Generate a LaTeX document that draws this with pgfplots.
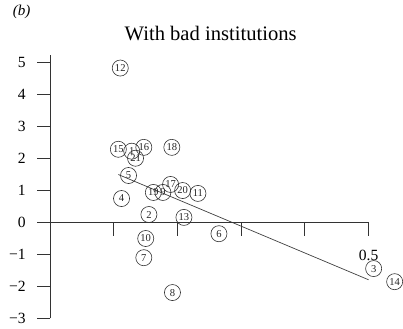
\documentclass[border=0pt]{standalone}
\usepackage{pgfplots}
\pgfplotsset{compat=1.18}
\usepackage{pgfplotstable}
\usepackage{fontspec}
\setmainfont{Liberation Serif}
\pgfplotstableread{
x y lab
0.128 2.23 1
0.155 0.25 2
0.508 -1.44 3
0.112 0.75 4
0.123 1.47 5
0.265 -0.35 6
0.147 -1.10 7
0.192 -2.19 8
0.177 0.94 9
0.150 -0.50 10
0.232 0.91 11
0.110 4.83 12
0.210 0.16 13
0.541 -1.85 14
0.107 2.29 15
0.147 2.35 16
0.189 1.19 17
0.191 2.35 18
0.162 0.94 19
0.208 1.00 20
0.134 2.01 21
}\pts
\begin{document}
\begin{tikzpicture}
\begin{axis}[
  scale only axis, width=353pt, height=262pt,
  xmin=0, xmax=0.557, ymin=-3, ymax=5.23,
  axis x line=none,
  axis y line*=left,
  y axis line style={-, black!80, line width=0.8pt},
  ytick={-3,-2,-1,0,1,2,3,4,5},
  yticklabels={−3,−2,−1,0,1,2,3,4,5},
  tick align=outside,
  major tick length=13pt,
  ytick style={black!80, line width=0.8pt},
  yticklabel style={font=\fontsize{15.5}{15.5}\selectfont, xshift=-8pt},
  clip=false,
]
\addplot[black!75, line width=0.7pt] coordinates {(0.107,1.50) (0.5,-1.79)};
\addplot[only marks, mark=none,
  point meta=explicit symbolic,
  nodes near coords,
  nodes near coords align=center,
  every node near coord/.style={circle, draw=black!80, line width=0.6pt, inner sep=0pt,
    minimum size=16pt, anchor=center, font=\fontsize{10.5}{10.5}\selectfont, text=black!85}
] table[x=x, y=y, meta=lab] {\pts};
\draw[black!80, line width=0.8pt] (axis cs:0,0) -- (axis cs:0.5,0);
\draw[black!80, line width=0.8pt] (axis cs:0.1,0) -- ([yshift=-13pt]axis cs:0.1,0);
\draw[black!80, line width=0.8pt] (axis cs:0.2,0) -- ([yshift=-13pt]axis cs:0.2,0);
\draw[black!80, line width=0.8pt] (axis cs:0.3,0) -- ([yshift=-13pt]axis cs:0.3,0);
\draw[black!80, line width=0.8pt] (axis cs:0.4,0) -- ([yshift=-13pt]axis cs:0.4,0);
\draw[black!80, line width=0.8pt] (axis cs:0.5,0) -- ([yshift=-13pt]axis cs:0.5,0);
\node[font=\fontsize{15.5}{15.5}\selectfont] at (axis cs:0.5,-1.03) {0.5};
\node[font=\fontsize{20.5}{20.5}\selectfont] at (axis cs:0.252,5.92) {With bad institutions};
\node[font=\fontsize{15}{15}\selectfont\itshape] at (axis cs:-0.045,6.58) {(b)};
\path ([xshift=-50pt,yshift=-10pt]axis cs:0,-3) ([yshift=55pt]axis cs:0,5.23);
\end{axis}
\end{tikzpicture}
\end{document}
